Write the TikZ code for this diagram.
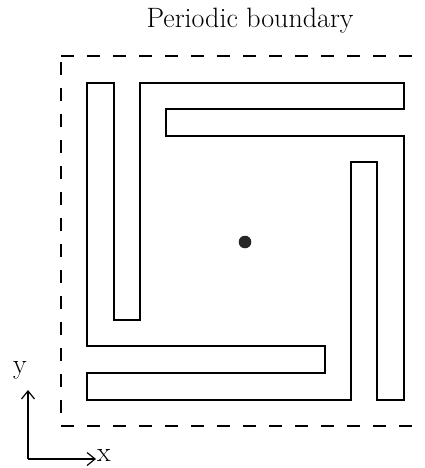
\documentclass[tikz,border=0pt]{standalone}
\usetikzlibrary{arrows.meta}
\begin{document}
\begin{tikzpicture}[x=1pt,y=-1pt,
  wall/.style={line width=1.7pt,line join=miter},
  pbound/.style={line width=1.7pt,dash pattern=on 13pt off 13pt},
  axis/.style={line width=1.2pt,-{Straight Barb[length=8pt,width=13pt,line width=1.2pt]}},
  lbl/.style={font=\fontsize{28}{32}\selectfont,inner sep=0pt}]
\useasboundingbox (0,0) rectangle (424,468);
% title
\node[lbl,anchor=base] (title) at (250,28) {Periodic boundary};
% periodic boundary (dashed)
\draw[pbound] (61,56) -- (424,56);
\draw[pbound,dash phase=13pt] (61,426) -- (61,49);
\draw[pbound] (61,426) -- (424,426);
% pinwheel walls
\draw[wall] (86.7,83.3) -- (114,83.3) -- (114,320) -- (140,320) -- (140,83.3)
  -- (404,83.3) -- (404,109.3) -- (166,109.3) -- (166,136) -- (404,136)
  -- (404,400) -- (377.3,400) -- (377.3,162) -- (350.7,162) -- (350.7,400)
  -- (86.7,400) -- (86.7,373.3) -- (325,373.3) -- (325,346) -- (86.7,346)
  -- cycle;
% centre dot
\fill[black!85] (245,242) circle (6.3);
% axes
\coordinate (o) at (28,459);
\coordinate (ytip) at (28,390);
\coordinate (xtip) at (96,459);
\draw[axis] (o) -- (ytip);
\draw[axis] (o) -- (xtip);
\node[lbl,anchor=center] (ylab) at (20,370) {y};
\node[lbl,anchor=base west] (xlab) at (97,461) {x};
\end{tikzpicture}
\end{document}
